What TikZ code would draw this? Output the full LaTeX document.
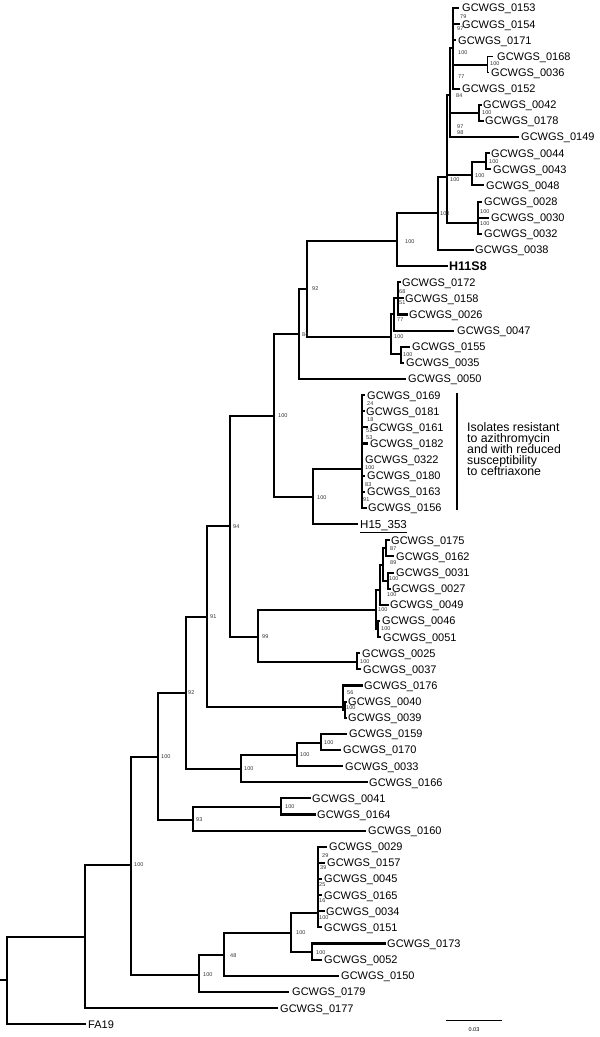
\documentclass[tikz,border=0pt]{standalone}
\usepackage{fontspec}
\setmainfont{Liberation Sans}
\newcommand\gl[4]{%
  \coordinate (g#1) at (#2,#3);
  \node[lab] (t#1) at (#4,#3+3.9) {GCWGS\_#1};}
\begin{document}
\begin{tikzpicture}[x=1pt,y=-1pt,
  br/.style={line width=2.1pt, line cap=rect},
  thinbr/.style={line width=0.5pt},
  lab/.style={font=\fontsize{11}{13}\selectfont, anchor=base west, inner sep=0pt},
  bs/.style={font=\fontsize{5.5}{6}\selectfont, anchor=west, inner sep=0pt, text=black!80},
  note/.style={font=\fontsize{12.3}{11}\selectfont, anchor=base west, inner sep=0pt}]
\useasboundingbox (0,0) rectangle (600,1037);

% ---- leaves: id, tip x, y, text x
\gl{0153}{458}{8.0}{462}
\gl{0154}{459}{24.1}{462}
\gl{0171}{455}{40.3}{458}
\gl{0168}{493}{56.4}{497}
\gl{0036}{489}{72.5}{491}
\gl{0152}{459}{88.7}{462}
\gl{0042}{481}{104.8}{483}
\gl{0178}{483}{120.9}{485}
\gl{0149}{518}{137.0}{521}
\gl{0044}{489}{153.2}{491}
\gl{0043}{490}{169.3}{493}
\gl{0048}{483}{185.4}{486}
\gl{0028}{481}{201.6}{484}
\gl{0030}{488}{217.7}{491}
\gl{0032}{481}{233.8}{484}
\gl{0038}{473}{250.0}{475}
\coordinate (gH11S8) at (447,266.1);
\node[lab,font=\fontsize{12.5}{14}\selectfont\bfseries] (tH11S8) at (449,266.1+4.3) {H11S8};
\gl{0172}{400}{282.2}{402}
\gl{0158}{403}{298.3}{405}
\gl{0026}{407}{314.5}{409}
\gl{0047}{453}{330.6}{457}
\gl{0155}{409}{346.7}{412}
\gl{0035}{403}{362.9}{406}
\gl{0050}{405}{379.0}{408}
\gl{0169}{364}{395.1}{367}
\gl{0181}{364}{411.3}{366}
\gl{0161}{367}{427.4}{370}
\gl{0182}{367}{443.5}{370}
\gl{0322}{362}{459.6}{365}
\gl{0180}{364}{475.8}{367}
\gl{0163}{364}{491.9}{367}
\gl{0156}{366}{508.0}{368}
\coordinate (gH15) at (357,524.2);
\node[lab,font=\fontsize{11.5}{13}\selectfont] (tH15) at (360,524.2+4) {\underline{H15\_353}};
\gl{0175}{389}{540.3}{391}
\gl{0162}{393}{556.4}{396}
\gl{0031}{393}{572.6}{396}
\gl{0027}{390}{588.7}{392}
\gl{0049}{388}{604.8}{390}
\gl{0046}{379}{620.9}{382}
\gl{0051}{380}{637.1}{383}
\gl{0025}{359}{653.2}{362}
\gl{0037}{360}{669.3}{363}
\gl{0176}{362}{685.5}{364}
\gl{0040}{346}{701.6}{348}
\gl{0039}{346}{717.7}{348}
\gl{0159}{346}{733.9}{349}
\gl{0170}{340}{750.0}{343}
\gl{0033}{342}{766.1}{345}
\gl{0166}{367}{782.2}{369}
\gl{0041}{310}{798.4}{312}
\gl{0164}{315}{814.5}{317}
\gl{0160}{365}{830.6}{368}
\gl{0029}{326}{846.8}{329}
\gl{0157}{324}{862.9}{327}
\gl{0045}{321}{879.0}{324}
\gl{0165}{321}{895.2}{324}
\gl{0034}{324}{911.3}{326}
\gl{0151}{321}{927.4}{324}
\gl{0173}{385}{943.5}{387}
\gl{0052}{321}{959.7}{324}
\gl{0150}{338}{975.8}{341}
\gl{0179}{288}{991.9}{292}
\gl{0177}{277}{1008.1}{280}
\coordinate (gFA19) at (85,1024.2);
\node[lab] (tFA19) at (88,1024.2+3.9) {FA19};

% ---- internal nodes
\coordinate (ROOT) at (7,980);
\coordinate (stub) at (1,980);
\coordinate (P100e) at (85,937);
\coordinate (P100d) at (131,865);
\coordinate (P100c) at (158,757);
\coordinate (P92L) at (186,693);
\coordinate (P91) at (207,617);
\coordinate (P94) at (230,526);
\coordinate (P100a) at (274,416);
\coordinate (P84) at (299,334);
\coordinate (P92) at (307,289);
\coordinate (A) at (397,241);
\coordinate (B) at (438,213);
\coordinate (C) at (447,177);
\coordinate (G) at (450,95);
\coordinate (D1) at (453,48);
\coordinate (K) at (487,65);
\coordinate (H) at (479,113);
\coordinate (E) at (472,175);
\coordinate (L) at (486,162);
\coordinate (F) at (478,223);
\coordinate (V) at (391,337);
\coordinate (V1) at (394,314);
\coordinate (V3) at (398,298);
\coordinate (V2) at (401,354);
\coordinate (P100b) at (313,497);
\coordinate (R0) at (362,469);
\coordinate (P99) at (258,637);
\coordinate (Z) at (357,662);
\coordinate (Q) at (376,610);
\coordinate (Q1) at (380,590);
\coordinate (Q2) at (383,565);
\coordinate (Q3) at (386,548);
\coordinate (Q4) at (388,581);
\coordinate (Q5) at (378,629);
\coordinate (R) at (343,707);
\coordinate (R2) at (345,710);
\coordinate (S) at (241,769);
\coordinate (S1) at (297,755);
\coordinate (S2) at (321,743);
\coordinate (T) at (193,820);
\coordinate (T1) at (281,807);
\coordinate (U) at (199,975);
\coordinate (U1) at (224,955);
\coordinate (U2) at (291,933);
\coordinate (U3) at (318,913);
\coordinate (U4) at (312,952);

% ---- branches
\draw[br] (stub) -- (ROOT);
\draw[br] (ROOT) |- (P100e) (ROOT) |- (gFA19);
\draw[br] (P100e) |- (P100d) (P100e) |- (g0177);
\draw[br] (P100d) |- (P100c) (P100d) |- (U);
\draw[br] (P100c) |- (P92L) (P100c) |- (T);
\draw[br] (P92L) |- (P91) (P92L) |- (S);
\draw[br] (P91) |- (P94) (P91) |- (R);
\draw[br] (P94) |- (P100a) (P94) |- (P99);
\draw[br] (P100a) |- (P84) (P100a) |- (P100b);
\draw[br] (P84) |- (P92) (P84) |- (g0050);
\draw[br] (P92) |- (A) (P92) |- (V);
\draw[br] (A) |- (B) (A) |- (gH11S8);
\draw[br] (B) |- (C) (B) |- (g0038);
\draw[br] (C) |- (G) (C) |- (E) (C) |- (F);
\draw[br] (G) |- (D1) (G) |- (H) (G) |- (g0149);
\draw[br] (D1) |- (g0153) (D1) |- (g0154) (D1) |- (g0171) (D1) |- (K) (D1) |- (g0152);
\draw[thinbr] (K) |- (g0168) (K) |- (g0036);
\draw[br] (H) |- (g0042) (H) |- (g0178);
\draw[br] (E) |- (L) (E) |- (g0048);
\draw[br] (L) |- (g0044) (L) |- (g0043);
\draw[br] (F) |- (g0028) (F) |- (g0030) (F) |- (g0032);
\draw[br] (V) |- (V1) (V) |- (V2);
\draw[br] (V1) |- (V3) (V1) |- (g0047);
\draw[br] (V3) |- (g0172) (V3) |- (g0158) (V3) |- (g0026);
\draw[br] (V2) |- (g0155) (V2) |- (g0035);
\draw[br] (P100b) |- (R0) (P100b) |- (gH15);
\draw[br] (R0) |- (g0169) (R0) |- (g0181) (R0) |- (g0161) (R0) |- (g0182)
          (R0) |- (g0322) (R0) |- (g0180) (R0) |- (g0163) (R0) |- (g0156);
\draw[br] (P99) |- (Q) (P99) |- (Z);
\draw[br] (Z) |- (g0025) (Z) |- (g0037);
\draw[br] (Q) |- (Q1) (Q) |- (Q5);
\draw[br] (Q1) |- (Q2) (Q1) |- (g0049);
\draw[br] (Q2) |- (Q3) (Q2) |- (Q4);
\draw[br] (Q3) |- (g0175) (Q3) |- (g0162);
\draw[br] (Q4) |- (g0031) (Q4) |- (g0027);
\draw[br] (Q5) |- (g0046) (Q5) |- (g0051);
\draw[br] (R) |- (g0176) (R) |- (R2);
\draw[br] (R2) |- (g0040) (R2) |- (g0039);
\draw[br] (S) |- (S1) (S) |- (g0166);
\draw[br] (S1) |- (S2) (S1) |- (g0033);
\draw[br] (S2) |- (g0159) (S2) |- (g0170);
\draw[br] (T) |- (T1) (T) |- (g0160);
\draw[br] (T1) |- (g0041) (T1) |- (g0164);
\draw[br] (U) |- (U1) (U) |- (g0179);
\draw[br] (U1) |- (U2) (U1) |- (g0150);
\draw[br] (U2) |- (U3) (U2) |- (U4);
\draw[br] (U3) |- (g0029) (U3) |- (g0157) (U3) |- (g0045) (U3) |- (g0165)
          (U3) |- (g0034) (U3) |- (g0151);
\draw[br] (U4) |- (g0173) (U4) |- (g0052);

% ---- bootstrap values
\foreach \x/\y/\t [count=\i] in {
  460/17/79, 457/29/97, 458/53/100, 458/77/77, 456/96/84,
  490/64/100, 482/113/100, 457/127/97, 457/133/98,
  489/162/100, 475/176/100, 450/180/100, 480/212/100, 480/224/100,
  440/214/100, 405/242/100, 312/289/92,
  399/292/68, 399/303/51, 397/320/77, 394/337/100, 403/355/100, 302/335/84,
  367/404/24, 367/420/18, 366/431/51, 366/438/53, 365/468/100, 365/485/83, 363/500/91,
  317/498/100, 278/416/100, 233/527/94,
  390/549/87, 390/563/89, 389/579/100, 387/595/100, 378/610/100, 381/629/100,
  262/637/99, 360/662/100, 210/617/91, 347/693/56, 346/708/100,
  188/693/92, 324/743/100, 300/755/100, 244/769/100, 161/757/100,
  285/807/100, 196/820/93, 134/865/100,
  322/856/29, 320/868/39, 319/885/25, 319/901/16, 319/918/100,
  296/933/100, 316/953/100, 230/956/48, 203/975/100}
  {\node[bs] (bs\i) at (\x,\y) {\t};}

% ---- resistant-isolate bracket and note
\coordinate (brtop) at (457,393);
\coordinate (brbot) at (457,510);
\draw[line width=2.6pt] (brtop) -- (brbot);
\node[note] (n1) at (467,427+4.5) {Isolates resistant};
\node[note] (n2) at (467,438+4.5) {to azithromycin};
\node[note] (n3) at (467,449+4.5) {and with reduced};
\node[note] (n4) at (467,460+4.5) {susceptibility};
\node[note] (n5) at (467,471+4.5) {to ceftriaxone};

% ---- scale bar
\coordinate (sbl) at (446,1020);
\coordinate (sbr) at (502,1020);
\draw[line width=0.8pt] (sbl) -- (sbr);
\node[font=\fontsize{5.5}{6}\selectfont, inner sep=0pt] (sbt) at (474,1030) {0.03};
\end{tikzpicture}
\end{document}
